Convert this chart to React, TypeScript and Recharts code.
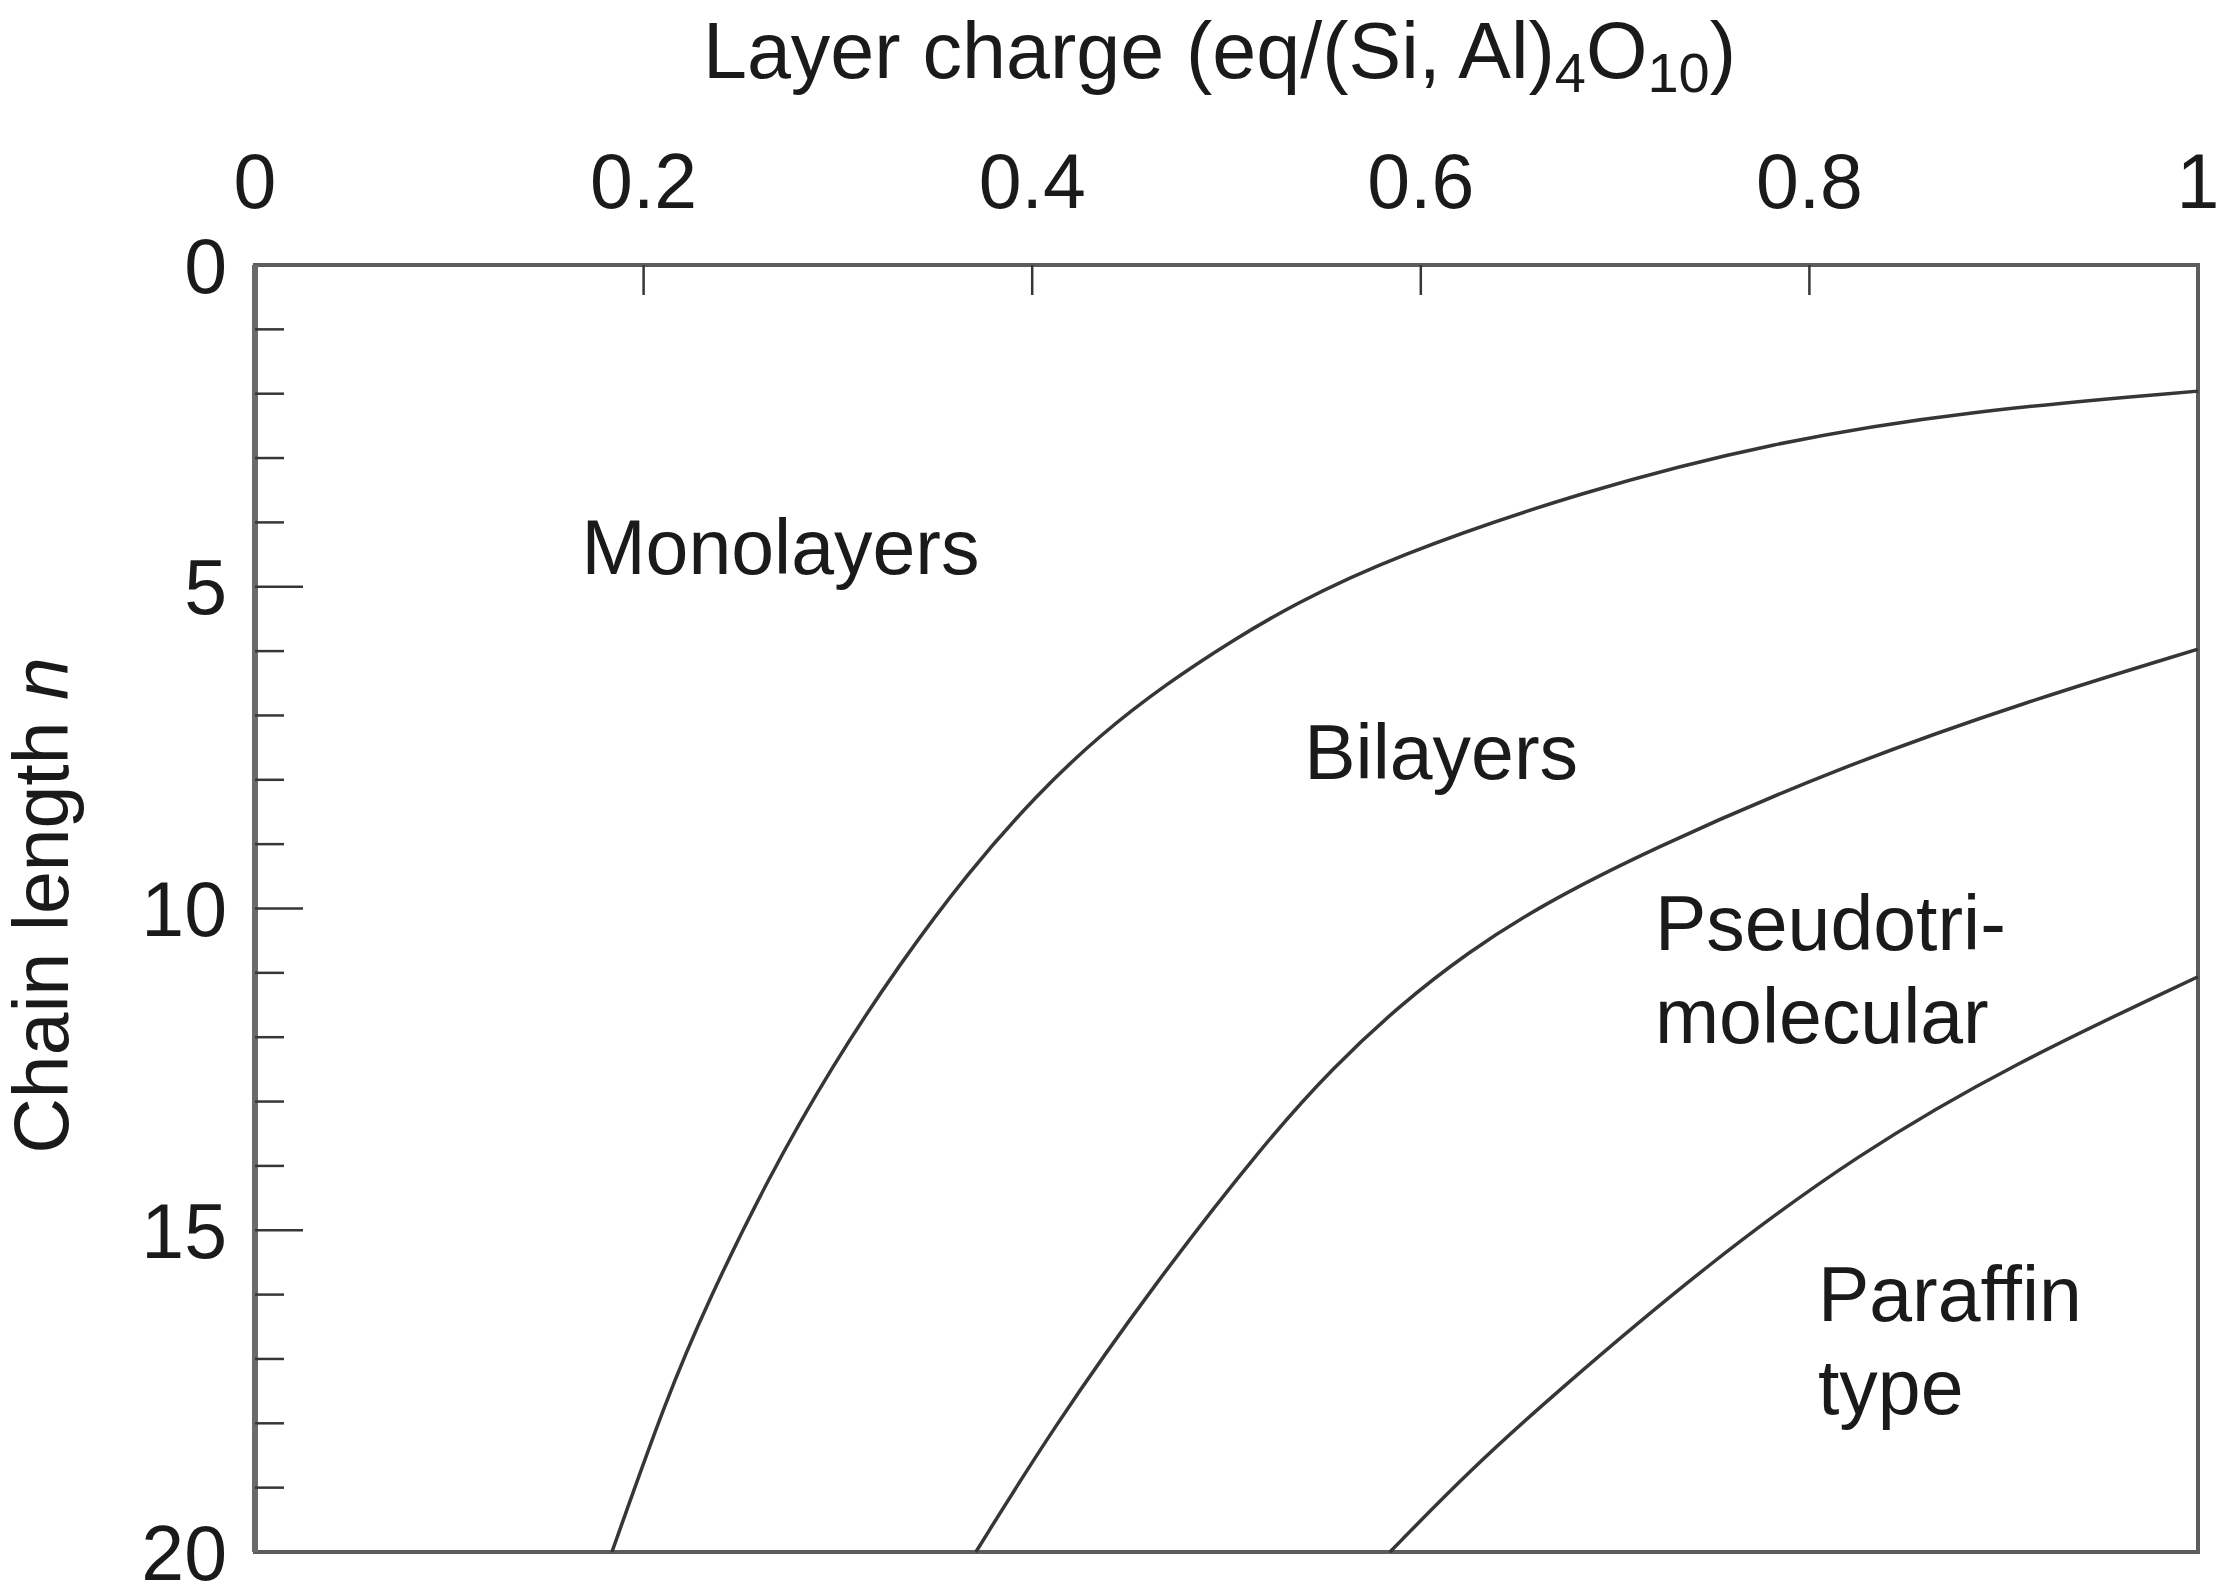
import React from "react";
import { LineChart, Line, XAxis, YAxis, ReferenceArea, ReferenceDot } from "recharts";

// Layer charge (x) vs chain length n (y) boundaries
const monoBiBoundary = [
  { x: 0.1837, y: 20.0 },
  { x: 0.212, y: 17.59 },
  { x: 0.2331, y: 16.11 },
  { x: 0.2635, y: 14.22 },
  { x: 0.2975, y: 12.42 },
  { x: 0.332, y: 10.85 },
  { x: 0.3664, y: 9.46 },
  { x: 0.402, y: 8.24 },
  { x: 0.4349, y: 7.3 },
  { x: 0.4694, y: 6.5 },
  { x: 0.5033, y: 5.83 },
  { x: 0.5342, y: 5.28 },
  { x: 0.5847, y: 4.54 },
  { x: 0.6835, y: 3.51 },
  { x: 0.7818, y: 2.75 },
  { x: 0.8801, y: 2.27 },
  { x: 1.0, y: 1.96 },
];

const biPseudoBoundary = [
  { x: 0.371, y: 20.0 },
  { x: 0.4107, y: 18.07 },
  { x: 0.4632, y: 15.82 },
  { x: 0.5208, y: 13.6 },
  { x: 0.5548, y: 12.47 },
  { x: 0.5893, y: 11.5 },
  { x: 0.6243, y: 10.68 },
  { x: 0.6603, y: 9.98 },
  { x: 0.7159, y: 9.11 },
  { x: 0.8147, y: 7.81 },
  { x: 0.913, y: 6.77 },
  { x: 1.0, y: 5.97 },
];

const pseudoParaffinBoundary = [
  { x: 0.5841, y: 20.0 },
  { x: 0.6253, y: 18.73 },
  { x: 0.668, y: 17.56 },
  { x: 0.7468, y: 15.54 },
  { x: 0.8255, y: 13.8 },
  { x: 0.9043, y: 12.42 },
  { x: 1.0, y: 11.06 },
];

const xTicks = [0, 0.2, 0.4, 0.6, 0.8, 1];
const yTicks = Array.from({ length: 21 }, (_, i) => i);
const yMajorTicks = [0, 5, 10, 15, 20];

const regionLabels = [
  { x: 0.168, y: 4.8, lines: ["Monolayers"] },
  { x: 0.54, y: 7.99, lines: ["Bilayers"] },
  { x: 0.7205, y: 10.645, lines: ["Pseudotri-", "molecular"] },
  { x: 0.8044, y: 16.41, lines: ["Paraffin", "type"] },
];

const FONT = "'Liberation Sans', Arial, Helvetica, sans-serif";
const TEXT = "#1a1a1a";
const LINE = "#363636";
const FS = 77;

const Y_MARGIN = 28;
const X_MARGIN = 57;

const YTick = (props: any) => {
  const { x, y, payload } = props;
  const v = payload.value as number;
  const axisX = x + Y_MARGIN;
  const major = yMajorTicks.includes(v);
  const len = v === 0 || v === 20 ? 0 : major ? 48 : 29;
  return (
    <g>
      {len > 0 && (
        <line x1={axisX} x2={axisX + len} y1={y} y2={y} stroke={LINE} strokeWidth={2.5} />
      )}
      {major && (
        <text x={x} y={y} dy="0.36em" textAnchor="end" fontFamily={FONT} fontSize={FS} fill={TEXT}>
          {v}
        </text>
      )}
    </g>
  );
};

const XTick = (props: any) => {
  const { x, y, payload } = props;
  const v = payload.value as number;
  const axisY = y + X_MARGIN;
  const showLine = v > 0 && v < 1;
  return (
    <g>
      {showLine && (
        <line x1={x} x2={x} y1={axisY} y2={axisY + 30} stroke={LINE} strokeWidth={2.5} />
      )}
      <text x={x} y={y} textAnchor="middle" fontFamily={FONT} fontSize={FS} fill={TEXT}>
        {String(v)}
      </text>
    </g>
  );
};

const TitleLabel = (props: any) => {
  const vb = props.viewBox || { x: 0, y: 0, width: 0, height: 0 };
  const cx = vb.x + vb.width / 2 - 7;
  return (
    <text x={cx} y={vb.y + 78} textAnchor="middle" fontFamily={FONT} fontSize={79} fill={TEXT}>
      <tspan>Layer charge (eq/(Si, Al)</tspan>
      <tspan fontSize={56} dy={14}>4</tspan>
      <tspan dy={-14}>O</tspan>
      <tspan fontSize={56} dy={14}>10</tspan>
      <tspan dy={-14}>)</tspan>
    </text>
  );
};

const YLabel = (props: any) => {
  const vb = props.viewBox || { x: 0, y: 0, width: 0, height: 0 };
  const lx = vb.x + 68;
  const ly = vb.y + vb.height / 2 - 3;
  return (
    <text
      x={lx}
      y={ly}
      textAnchor="middle"
      transform={`rotate(-90, ${lx}, ${ly})`}
      fontFamily={FONT}
      fontSize={FS}
      fill={TEXT}
    >
      <tspan>Chain length </tspan>
      <tspan fontStyle="italic">n</tspan>
    </text>
  );
};

const makeRegionShape = (lines: string[]) => (p: any) => (
  <text x={p.cx} y={p.cy} fontFamily={FONT} fontSize={FS} fill={TEXT}>
    {lines.map((l, i) => (
      <tspan key={i} x={p.cx} dy={i === 0 ? 0 : 93}>
        {l}
      </tspan>
    ))}
  </text>
);

export default function App() {
  return (
    <div style={{ position: "absolute", left: 0, top: 0, background: "#fff" }}>
      <LineChart
        width={2223}
        height={1592}
        margin={{ top: 0, right: 25, bottom: 40, left: 0 }}
      >
        <XAxis
          xAxisId="x"
          type="number"
          dataKey="x"
          orientation="top"
          domain={[0, 1]}
          ticks={xTicks}
          interval={0}
          height={265}
          tickSize={0}
          tickMargin={X_MARGIN}
          tickLine={false}
          axisLine={false}
          tick={<XTick />}
          label={<TitleLabel />}
        />
        <YAxis
          yAxisId="y"
          type="number"
          dataKey="y"
          reversed
          domain={[0, 20]}
          ticks={yTicks}
          interval={0}
          width={255}
          tickSize={0}
          tickMargin={Y_MARGIN}
          tickLine={false}
          axisLine={{ stroke: "#6a6a6a", strokeWidth: 6 }}
          tick={<YTick />}
          label={<YLabel />}
        />
        <ReferenceArea
          xAxisId="x"
          yAxisId="y"
          x1={0}
          x2={1}
          y1={0}
          y2={20}
          fill="none"
          fillOpacity={0}
          stroke="#5c5c5c"
          strokeWidth={4}
        />
        <Line
          xAxisId="x"
          yAxisId="y"
          data={monoBiBoundary}
          dataKey="y"
          type="basis"
          stroke={LINE}
          strokeWidth={3.5}
          dot={false}
          activeDot={false}
          isAnimationActive={false}
        />
        <Line
          xAxisId="x"
          yAxisId="y"
          data={biPseudoBoundary}
          dataKey="y"
          type="basis"
          stroke={LINE}
          strokeWidth={3.5}
          dot={false}
          activeDot={false}
          isAnimationActive={false}
        />
        <Line
          xAxisId="x"
          yAxisId="y"
          data={pseudoParaffinBoundary}
          dataKey="y"
          type="basis"
          stroke={LINE}
          strokeWidth={3.5}
          dot={false}
          activeDot={false}
          isAnimationActive={false}
        />
        {regionLabels.map((r, i) => (
          <ReferenceDot
            key={i}
            xAxisId="x"
            yAxisId="y"
            x={r.x}
            y={r.y}
            r={0}
            shape={makeRegionShape(r.lines)}
          />
        ))}
      </LineChart>
    </div>
  );
}
